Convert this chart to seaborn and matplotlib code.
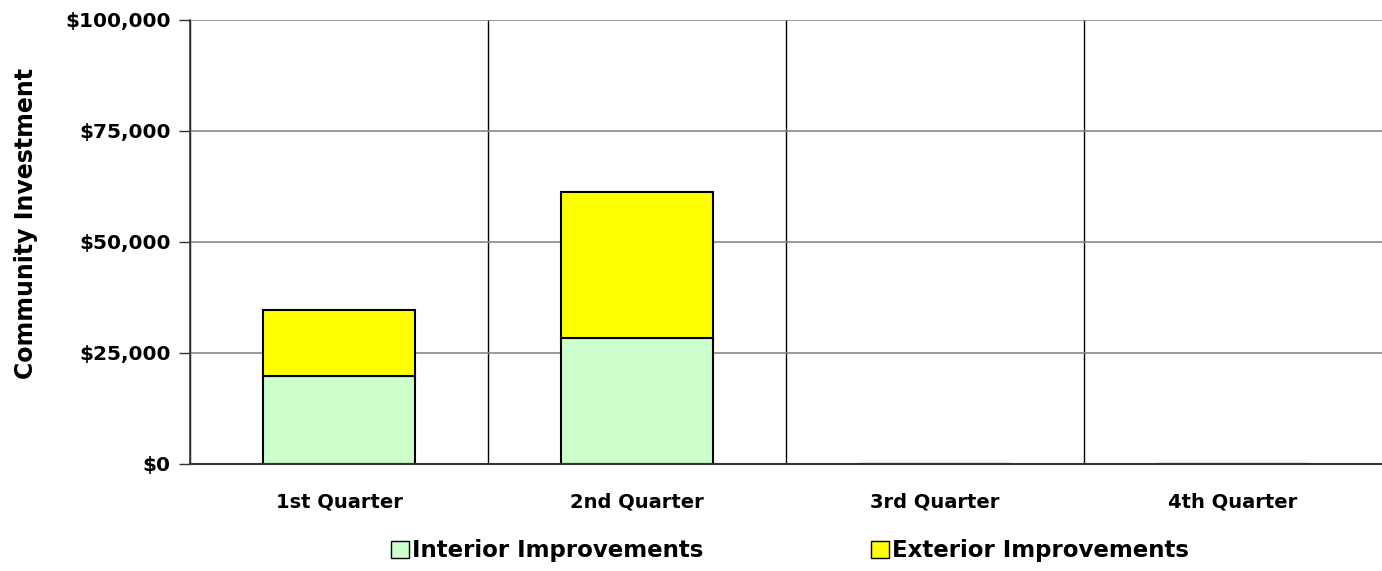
import matplotlib
matplotlib.use("Agg")
import matplotlib.pyplot as plt
import matplotlib.ticker as mticker
from matplotlib.patches import Patch
import numpy as np
import pandas as pd
import seaborn as sns

quarters = ["1st Quarter", "2nd Quarter", "3rd Quarter", "4th Quarter"]
interior = [19800, 28300, 0, 0]
exterior = [14800, 32900, 0, 0]
series_names = ["Interior Improvements", "Exterior Improvements"]
colors = ["#ccffcc", "#ffff00"]

sns.set_theme(style="white")
plt.rcParams["font.family"] = ["DejaVu Sans"]
plt.rcParams.update({"font.weight": "bold", "text.color": "black",
                     "xtick.color": "black", "ytick.color": "black",
                     "axes.labelcolor": "black"})

df = pd.DataFrame({"quarter": quarters, "interior": interior, "exterior": exterior})

fig = plt.figure(figsize=(13.82, 5.71), dpi=100)
ax = fig.add_axes([190 / 1382, 1 - 463.5 / 571, 1 - 190 / 1382, (463.5 - 20) / 571])

sns.barplot(data=df, x="quarter", y="interior", color=colors[0], edgecolor="black",
            linewidth=1.5, width=0.51, saturation=1, ax=ax)
sns.barplot(data=df, x="quarter", y="exterior", color=colors[1], edgecolor="black",
            linewidth=1.5, width=0.51, saturation=1, bottom=df["interior"], ax=ax)

ax.set_xlim(-0.5, 3.5)
ax.set_ylim(0, 100000)
ax.yaxis.set_major_locator(mticker.MultipleLocator(25000))
ax.yaxis.set_major_formatter(mticker.FuncFormatter(lambda v, _: f"${v:,.0f}"))
ax.grid(axis="y", color="#888888", lw=1.2)
ax.set_axisbelow(True)

# category boundaries: Excel-style vertical gridlines with tick marks
ax.set_xticks(np.arange(-0.5, 3, 1), minor=True)
ax.grid(axis="x", which="minor", color="black", lw=1)
ax.tick_params(axis="x", which="minor", length=8, width=1, color="black", direction="out")
ax.tick_params(axis="x", which="major", length=0, pad=21, labelsize=14)
ax.tick_params(axis="y", which="major", length=8, width=1, color="#333333",
               direction="out", left=True, labelsize=14.5, pad=6)

for side in ["top", "right"]:
    ax.spines[side].set_visible(False)
ax.spines["left"].set_color("#333333")
ax.spines["bottom"].set_color("#333333")
ax.spines["left"].set_linewidth(1.2)
ax.spines["bottom"].set_linewidth(1.5)

ax.set_xlabel("")
ax.set_ylabel("Community Investment", fontsize=17, fontweight="bold")
ax.yaxis.set_label_coords(-0.1275, 0.542)

handles = [Patch(facecolor=c, edgecolor="black", lw=1) for c in colors]
fig.legend(handles, series_names, loc="center", bbox_to_anchor=(790 / 1382, 1 - 551 / 571),
           ncol=2, frameon=False, fontsize=16.5, handlelength=0.78, handleheight=0.78,
           handletextpad=0.15, columnspacing=7.3)

fig.savefig("out.png", dpi=100)
